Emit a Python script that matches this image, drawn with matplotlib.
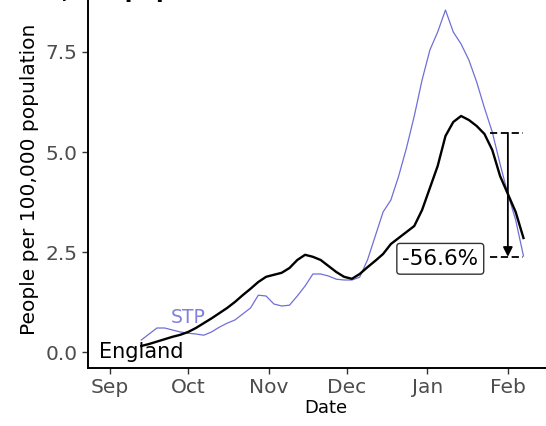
import pandas as pd
import matplotlib
matplotlib.use('Agg')
from matplotlib import pyplot as plt

# data, one value every 3 days from 13 Sep 2020
dates = pd.date_range('2020-09-13', periods=50, freq='3D')
england = [0.15, 0.20, 0.26, 0.32, 0.38, 0.43, 0.50, 0.60, 0.72, 0.84,
           0.97, 1.10, 1.25, 1.42, 1.58, 1.75, 1.88, 1.93, 1.98, 2.10,
           2.30, 2.43, 2.38, 2.30, 2.15, 2.00, 1.88, 1.83, 1.95, 2.12,
           2.28, 2.45, 2.70, 2.85, 3.00, 3.15, 3.55, 4.10, 4.65, 5.40,
           5.75, 5.90, 5.80, 5.65, 5.45, 5.05, 4.40, 3.95, 3.50, 2.85]
stp = [0.30, 0.45, 0.60, 0.60, 0.55, 0.50, 0.47, 0.45, 0.42, 0.50,
       0.62, 0.72, 0.80, 0.95, 1.10, 1.42, 1.40, 1.20, 1.15, 1.17,
       1.40, 1.65, 1.95, 1.95, 1.90, 1.82, 1.80, 1.80, 1.87, 2.30,
       2.90, 3.50, 3.80, 4.40, 5.10, 5.90, 6.80, 7.55, 8.00, 8.55,
       8.00, 7.70, 7.30, 6.75, 6.10, 5.50, 4.70, 3.95, 3.30, 2.40]

# change annotation
ref_date = pd.Timestamp('2021-01-25')
end_date = pd.Timestamp('2021-02-07')
arrow_date = pd.Timestamp('2021-02-01')
label_date = pd.Timestamp('2021-01-06')
ref_val = 5.48
now_val = 2.38

month_ticks = pd.date_range('2020-09-01', '2021-02-01', freq='MS')
month_labels = ['Sep', 'Oct', 'Nov', 'Dec', 'Jan', 'Feb']

fig = plt.figure(figsize=(5.46, 4.26), dpi=100, facecolor='white')
ax = fig.add_axes([88/546, 58/426, 458/546, 378/426])

ax.plot(dates, stp, color='#6f6fd8', linewidth=0.9)
ax.plot(dates, england, color='black', linewidth=1.7)

ax.text(pd.Timestamp('2020-10-01'), 0.87, 'STP', color='#8080e0',
        fontsize=13.5, ha='center', va='center')
ax.text(dates[0], 0.0, 'England', color='black', fontsize=15,
        ha='center', va='center')

# bracket with arrow
ax.plot([ref_date, end_date], [ref_val, ref_val], color='black',
        linewidth=1.3, linestyle=(0, (4, 2)))
ax.plot([ref_date, end_date], [now_val, now_val], color='black',
        linewidth=1.3, linestyle=(0, (4, 2)))
ax.annotate('', xy=(arrow_date, now_val), xytext=(arrow_date, ref_val),
            arrowprops=dict(arrowstyle='-|>', color='black', lw=1.3,
                            mutation_scale=14, shrinkA=0, shrinkB=0))
pct = (now_val - ref_val) / ref_val * 100
ax.text(label_date, now_val - 0.05, f'{pct:.1f}%', fontsize=15.5,
        ha='center', va='center',
        bbox=dict(boxstyle='round,pad=0.25,rounding_size=0.15',
                  facecolor='white', edgecolor='#333333', linewidth=1))

ax.set_xlim(pd.Timestamp('2020-08-23 12:00'), pd.Timestamp('2021-02-15 16:00'))
ax.set_ylim(-0.4, 9.05)
ax.set_xticks(month_ticks)
ax.set_xticklabels(month_labels)
ax.set_yticks([0, 2.5, 5, 7.5])
ax.set_yticklabels(['0.0', '2.5', '5.0', '7.5'])
ax.tick_params(labelsize=14.5, labelcolor='#4d4d4d', length=4, width=1,
               color='#333333')

for s in ['top', 'right']:
    ax.spines[s].set_visible(False)
for s in ['left', 'bottom']:
    ax.spines[s].set_linewidth(1.4)

ax.set_xlabel('Date', fontsize=13, labelpad=1, x=0.52)
ax.set_ylabel('People per 100,000 population', fontsize=14.5, labelpad=5)

# title, mostly cut off by the top edge as in the source image
fig.text(15/546, 1.018, '100,000 population', fontsize=16, fontweight='bold',
         ha='left', va='center')

fig.savefig('out.png', dpi=100, facecolor='white')
